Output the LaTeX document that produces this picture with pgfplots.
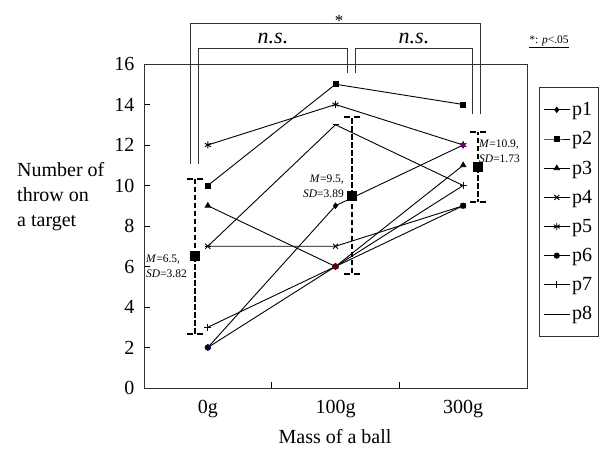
\documentclass[border=0pt]{standalone}
\usepackage{fontspec}
\setmainfont{Liberation Serif}
\usepackage{pgfplots}
\pgfplotsset{compat=1.18}

\newcommand{\bigfont}{\fontsize{20bp}{25bp}\selectfont}
\newcommand{\notefont}{\fontsize{11.5bp}{15bp}\selectfont}

\begin{document}
\begin{tikzpicture}
\path[use as bounding box] (0,0) rectangle (601bp,455bp);

\begin{axis}[
    at={(144bp,67bp)}, anchor=south west,
    scale only axis,
    width=383bp, height=324bp,
    xmin=0.5, xmax=3.5,
    ymin=0, ymax=16,
    xtick={1,2,3},
    xticklabels={0g,100g,300g},
    minor xtick={1.5,2.5},
    ytick={0,2,...,16},
    tick pos=left,
    tick align=inside,
    major tick length=6bp,
    minor tick length=6bp,
    major x tick style={draw=none},
    tick style={black, line width=0.8bp},
    axis line style={black!80, line width=0.9bp},
    /pgf/number format/assume math mode=true,
    tick label style={font=\bigfont},
    xticklabel style={yshift=-9bp},
    yticklabel style={xshift=-6bp},
    clip=false,
    legend style={at={(axis description cs:1.031,0.929)}, anchor=north west,
        font=\bigfont, draw=black!80, line width=0.9bp, row sep=10.5bp,
        inner xsep=4bp, inner ysep=13bp, cells={anchor=west}},
    legend image code/.code={\draw[mark repeat=2,mark phase=2,#1]
        plot coordinates {(0bp,0bp) (13bp,0bp) (26bp,0bp)};},
    every axis plot/.append style={black, line width=0.9bp, mark options={solid}},
]

\addplot[mark=diamond*, mark size=2.6bp] coordinates {(1,2) (2,9) (3,12)};
\addplot[mark=square*, mark size=2.5bp] coordinates {(1,10) (2,15) (3,14)};
\addplot[mark=triangle*, mark size=3bp] coordinates {(1,9) (2,6) (3,11)};
\addplot[mark=x, mark size=3.5bp] coordinates {(1,7) (2,7) (3,9)};
\addplot[mark=asterisk, mark size=3.5bp] coordinates {(1,12) (2,14) (3,12)};
\addplot[mark=*, mark size=2.6bp] coordinates {(1,2) (2,6) (3,9)};
\addplot[mark=+, mark size=3.5bp] coordinates {(1,3) (2,6) (3,10)};
\addplot[mark=-, mark size=3bp] coordinates {(1,7) (2,13) (3,10)};
\legend{p1,p2,p3,p4,p5,p6,p7,p8}

% tinted markers where series overlap
\addplot[forget plot, only marks, mark=*, mark size=2.6bp, draw=blue!70!black, fill=black] coordinates {(1,2)};
\addplot[forget plot, only marks, mark=*, mark size=2.6bp, draw=red!50!black, fill=red!40!black] coordinates {(2,6)};
\addplot[forget plot, only marks, mark=asterisk, mark size=3.5bp, draw=violet] coordinates {(3,12)};
\addplot[forget plot, only marks, mark=+, mark size=3.5bp, draw=blue!70!black] coordinates {(3,10)};

% means with SD
\addplot[forget plot, only marks, mark=square*, mark size=4.5bp,
    error bars/.cd, y dir=both, y explicit, error mark=-,
    error bar style={line width=1.8bp, dash pattern=on 5.5bp off 2.5bp},
    error mark options={rotate=90, line width=1.8bp, dash pattern=on 6bp off 4bp, mark size=8bp}]
    coordinates {(0.9,6.5) +- (0,3.82) (2.13,9.5) +- (0,3.89) (3.115,10.9) +- (0,1.73)};

\end{axis}

% significance brackets
\draw[black!80, line width=0.9bp] (190bp,291bp) -- (190bp,432bp) -- (480bp,432bp) -- (480bp,341bp);
\draw[black!80, line width=0.9bp] (198bp,291bp) -- (198bp,407bp) -- (347bp,407bp) -- (347bp,382bp);
\draw[black!80, line width=0.9bp] (355bp,382bp) -- (355bp,407bp) -- (472bp,407bp) -- (472bp,341bp);
\node[font=\fontsize{17bp}{17bp}\selectfont] at (339bp,434bp) {*};
\node[font=\fontsize{22bp}{22bp}\selectfont\itshape] at (273bp,417bp) {n.s.};
\node[font=\fontsize{22bp}{22bp}\selectfont\itshape] at (414bp,417bp) {n.s.};
\node[font=\notefont] at (549bp,413bp) {\underline{*: \textit{p}<.05}};

% mean annotations
\node[font=\notefont, align=left, anchor=west, inner sep=0pt] at (146bp,189bp) {\textit{M}=6.5,\\\textit{SD}=3.82};
\node[font=\notefont, align=right, anchor=east, inner sep=0pt] at (344bp,269bp) {\textit{M}=9.5,\\\textit{SD}=3.89};
\node[font=\notefont, align=left, anchor=west, inner sep=0pt] at (479bp,304bp) {\textit{M}=10.9,\\\textit{SD}=1.73};

% axis titles
\node[font=\bigfont, align=left, anchor=west, inner sep=0pt] at (17bp,258bp) {Number of\\throw on\\a target};
\node[font=\bigfont] at (335bp,18bp) {Mass of a ball};
\end{tikzpicture}
\end{document}
